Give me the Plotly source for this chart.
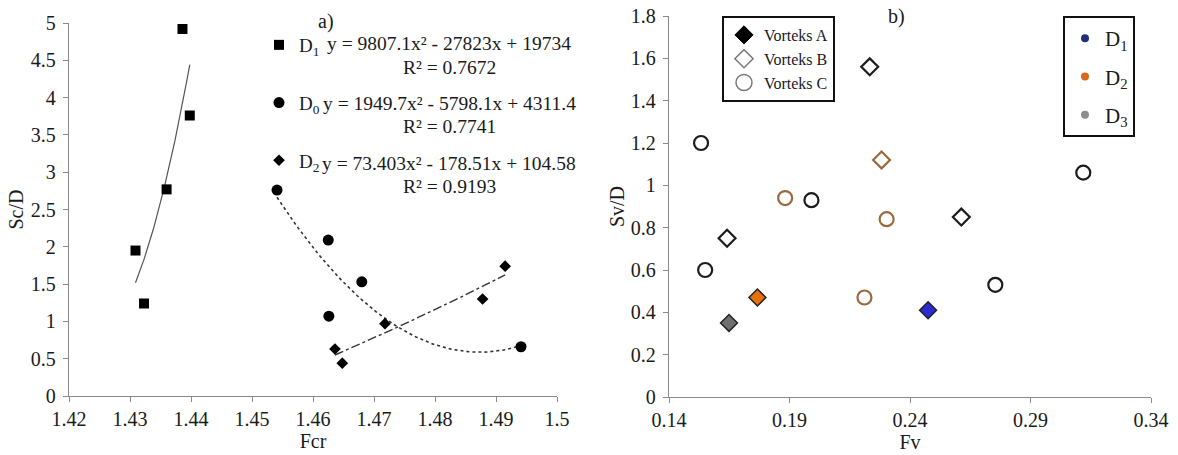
import numpy as np
import plotly.graph_objects as go

# ---------------- Panel a) data ----------------
fcr_d1 = [1.4309, 1.4323, 1.4360, 1.4386, 1.4398]
sc_d1 = [1.95, 1.24, 2.77, 4.92, 3.76]
fcr_d0 = [1.4541, 1.4625, 1.4626, 1.4680, 1.4941]
sc_d0 = [2.76, 2.09, 1.07, 1.53, 0.66]
fcr_d2 = [1.4636, 1.4648, 1.4718, 1.4878, 1.4915]
sc_d2 = [0.63, 0.44, 0.97, 1.30, 1.74]
series_names_a = ["D<sub>1</sub>", "D<sub>0</sub>", "D<sub>2</sub>"]
equations_a = [
    "y = 9807.1x² - 27823x + 19734",
    "y = 1949.7x² - 5798.1x + 4311.4",
    "y = 73.403x² - 178.51x + 104.58",
]
r2_a = ["R² = 0.7672", "R² = 0.7741", "R² = 0.9193"]

# ---------------- Panel b) data ----------------
fv_a = [0.2475, 0.1767, 0.1649]
sv_a = [0.41, 0.47, 0.35]
grp_a = ["D1", "D2", "D3"]
fv_b = [0.2233, 0.2282, 0.1641, 0.2613]
sv_b = [1.56, 1.12, 0.75, 0.85]
grp_b = ["D1", "D2", "D1", "D1"]
fv_c = [0.1533, 0.1550, 0.1882, 0.1991, 0.2303, 0.2211, 0.2754, 0.3119]
sv_c = [1.20, 0.60, 0.94, 0.93, 0.84, 0.47, 0.53, 1.06]
grp_c = ["D1", "D1", "D2", "D1", "D2", "D2", "D1", "D1"]
vortex_names = ["Vorteks A", "Vorteks B", "Vorteks C"]
group_names = ["D1", "D2", "D3"]
group_labels = ["D<sub>1</sub>", "D<sub>2</sub>", "D<sub>3</sub>"]

FONT = "Liberation Serif"
TXT = "#1a1a1a"
AX = "#8a8a8a"
fill_col = {"D1": "#2b2bd0", "D2": "#e8700c", "D3": "#6f6f6f"}
edge_col = {"D1": "#1c1c1c", "D2": "#9a6a3e", "D3": "#6f6f6f"}
legend_dot = {"D1": "#1f2f7a", "D2": "#d8691c", "D3": "#8c8c8c"}

W, H = 1178, 455
def px_x(p):
    return p / W
def px_y(p):
    return 1 - p / H

fig = go.Figure()

# ----- panel a scatter + trendlines -----
sets_a = [
    (fcr_d1, sc_d1, "square", 10, dict(color="#555555", width=1.2, dash="solid")),
    (fcr_d0, sc_d0, "circle", 11, dict(color="#333333", width=1.6, dash="dot")),
    (fcr_d2, sc_d2, "diamond", 9, dict(color="#333333", width=1.4, dash="dashdot")),
]
for (xs, ys, sym, sz, ln), name in zip(sets_a, series_names_a):
    coef = np.polyfit(xs, ys, 2)
    xx = np.linspace(min(xs), max(xs), 80)
    fig.add_trace(go.Scatter(x=xx, y=np.polyval(coef, xx), mode="lines", line=ln,
                             showlegend=False, hoverinfo="skip", xaxis="x", yaxis="y"))
    fig.add_trace(go.Scatter(x=xs, y=ys, mode="markers", name=name,
                             marker=dict(symbol=sym, size=sz, color="#000000"),
                             legend="legend", legendgroup=name, xaxis="x", yaxis="y"))

# ----- panel b scatter -----
fig.add_trace(go.Scatter(
    x=fv_a, y=sv_a, mode="markers", showlegend=False, xaxis="x2", yaxis="y2",
    marker=dict(symbol="diamond", size=13, color=[fill_col[g] for g in grp_a],
                line=dict(color="#222222", width=1.5))))
fig.add_trace(go.Scatter(
    x=fv_b, y=sv_b, mode="markers", showlegend=False, xaxis="x2", yaxis="y2",
    marker=dict(symbol="diamond", size=13, color="white",
                line=dict(color=[edge_col[g] for g in grp_b], width=2.2))))
fig.add_trace(go.Scatter(
    x=fv_c, y=sv_c, mode="markers", showlegend=False, xaxis="x2", yaxis="y2",
    marker=dict(symbol="circle", size=14, color="white",
                line=dict(color=[edge_col[g] for g in grp_c], width=2.2))))

# legend entries for vortex shapes
vortex_styles = [
    dict(symbol="diamond", size=14, color="#000000", line=dict(color="#000000", width=1)),
    dict(symbol="diamond", size=14, color="white", line=dict(color="#7a7a7a", width=1.5)),
    dict(symbol="circle", size=16, color="white", line=dict(color="#7a7a7a", width=1.5)),
]
for nm, st in zip(vortex_names, vortex_styles):
    fig.add_trace(go.Scatter(x=[None], y=[None], mode="markers", name=nm, marker=st,
                             legend="legend2", legendgroup=nm, xaxis="x2", yaxis="y2"))
# legend entries for D colours
for g, lab in zip(group_names, group_labels):
    fig.add_trace(go.Scatter(x=[None], y=[None], mode="markers", name=lab,
                             marker=dict(symbol="circle", size=8, color=legend_dot[g]),
                             legend="legend3", legendgroup="c" + g, xaxis="x2", yaxis="y2"))

# ----- equation annotations -----
ann = []
for i, (eq, r2) in enumerate(zip(equations_a, r2_a)):
    for txt, yy in ((eq, 44 + 59.5 * i), (r2, 67 + 59.5 * i)):
        ann.append(dict(text=txt, x=px_x(449), y=px_y(yy), xref="paper", yref="paper",
                        xanchor="center", yanchor="middle", showarrow=False,
                        font=dict(family=FONT, size=19.5, color=TXT)))
ann.append(dict(text="a)", x=px_x(326), y=px_y(21), xref="paper", yref="paper",
                showarrow=False, xanchor="center", yanchor="middle",
                font=dict(family=FONT, size=20, color=TXT)))
ann.append(dict(text="b)", x=px_x(896), y=px_y(17), xref="paper", yref="paper",
                showarrow=False, xanchor="center", yanchor="middle",
                font=dict(family=FONT, size=20, color=TXT)))

axis_common = dict(showgrid=False, zeroline=False, showline=True, linecolor=AX, linewidth=1.3,
                   ticks="outside", ticklen=5, tickcolor=AX, tickwidth=1.3, automargin=False,
                   tickfont=dict(family=FONT, size=20, color=TXT))

fig.update_layout(
    width=W, height=H, margin=dict(l=0, r=0, t=0, b=0),
    paper_bgcolor="white", plot_bgcolor="white",
    font=dict(family=FONT, color=TXT),
    xaxis=dict(domain=[px_x(69), px_x(557)], range=[1.42, 1.5], dtick=0.01, tick0=1.42,
               anchor="y", title=dict(text="Fcr", standoff=3,
                                      font=dict(family=FONT, size=20, color=TXT)),
               **axis_common),
    yaxis=dict(domain=[px_y(396), px_y(23)], range=[0, 5], dtick=0.5, anchor="x",
               ticklabelstandoff=3,
               title=dict(text="Sc/D", standoff=1, font=dict(family=FONT, size=20, color=TXT)),
               **axis_common),
    xaxis2=dict(domain=[px_x(669), px_x(1151)], range=[0.14, 0.34], dtick=0.05, tick0=0.14,
                anchor="y2", title=dict(text="Fv", standoff=3,
                                        font=dict(family=FONT, size=20, color=TXT)),
                **axis_common),
    yaxis2=dict(domain=[px_y(397), px_y(16)], range=[0, 1.8], dtick=0.2, anchor="x2",
                ticklabelstandoff=3,
                title=dict(text="Sv/D", standoff=0, font=dict(family=FONT, size=20, color=TXT)),
                **axis_common),
    legend=dict(x=px_x(259), y=px_y(26), xanchor="left", yanchor="top",
                bgcolor="rgba(0,0,0,0)", borderwidth=0, tracegroupgap=30,
                font=dict(family=FONT, size=19, color=TXT)),
    legend2=dict(x=px_x(722), y=px_y(16), xanchor="left", yanchor="top",
                 bgcolor="white", bordercolor="#111111", borderwidth=2, tracegroupgap=0,
                 font=dict(family=FONT, size=16, color=TXT)),
    legend3=dict(x=px_x(1063), y=px_y(16), xanchor="left", yanchor="top",
                 bgcolor="white", bordercolor="#111111", borderwidth=2, tracegroupgap=8,
                 font=dict(family=FONT, size=21, color=TXT)),
    annotations=ann,
    showlegend=True,
)

fig.write_html("out.html", config={"displayModeBar": False},
               post_script="document.body.style.margin='0';")
